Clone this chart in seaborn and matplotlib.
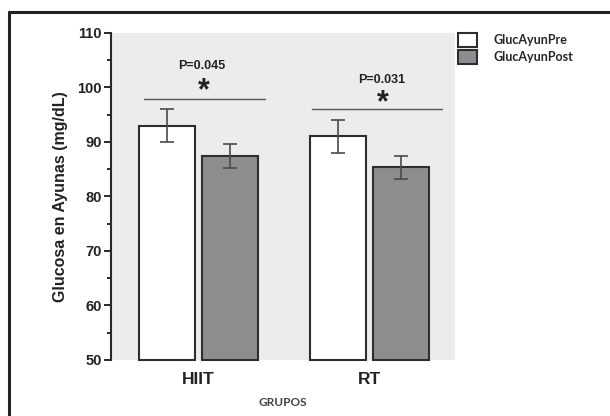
import matplotlib
matplotlib.use("Agg")
import matplotlib.pyplot as plt
import seaborn as sns
import pandas as pd
from matplotlib.patches import Patch
from matplotlib.lines import Line2D
from matplotlib.ticker import MultipleLocator

# ---- data ----
grupos = ["HIIT", "RT"]
momentos = ["GlucAyunPre", "GlucAyunPost"]
media_pre = [93.0, 91.0]
media_post = [87.4, 85.3]
error_pre = [3.0, 3.0]
error_post = [2.2, 2.1]
p_valores = ["P=0.045", "P=0.031"]

colores = ["#ffffff", "#8c8d90"]
y_min = 50

df = pd.DataFrame({
    "grupo": grupos * 2,
    "momento": [momentos[0]] * 2 + [momentos[1]] * 2,
    "glucosa": media_pre + media_post,
})

sns.set_style("white")
plt.rcParams["font.family"] = ["Liberation Sans", "DejaVu Sans"]

fig = plt.figure(figsize=(6.10, 4.16), dpi=100)
ax = fig.add_axes([0.182, 0.135, 0.564, 0.786])
ax.set_facecolor("#ececec")

sns.barplot(data=df, x="grupo", y="glucosa", hue="momento", order=grupos,
            hue_order=momentos, palette=colores, edgecolor="#2e2e2e",
            linewidth=1.5, width=0.737, gap=0.11, errorbar=None,
            legend=False, ax=ax)

errores = [error_pre, error_post]
for cont, err in zip(ax.containers, errores):
    xs = [b.get_x() + b.get_width() / 2 for b in cont]
    ys = [b.get_height() for b in cont]
    ax.errorbar(xs, ys, yerr=err, fmt="none", ecolor="#4a4a4a",
                elinewidth=1.2, capsize=5, capthick=1.2, zorder=5)
    # bars start at the axis floor so their bottom edge is drawn
    for b in cont:
        top = b.get_y() + b.get_height()
        b.set_y(y_min)
        b.set_height(top - y_min)
        b.set_clip_on(False)

ax.set_ylim(y_min, 110)
ax.set_xlim(-0.51, 1.50)
ax.yaxis.set_major_locator(MultipleLocator(10))
ax.yaxis.set_minor_locator(MultipleLocator(5))
for s in ["top", "right", "bottom"]:
    ax.spines[s].set_visible(False)
ax.spines["left"].set_color("#2a2a2a")
ax.spines["left"].set_linewidth(1.5)
ax.tick_params(axis="y", which="major", direction="out", length=5, width=1.4,
               color="#2a2a2a", left=True, pad=1.5, labelsize=10.5)
ax.tick_params(axis="y", which="minor", direction="out", length=3, width=1.4,
               color="#2a2a2a", left=True)
ax.tick_params(axis="x", length=0, pad=9, labelsize=12.5)
for lab in ax.get_yticklabels():
    lab.set_fontweight("bold")
    lab.set_color("#222222")
for lab in ax.get_xticklabels():
    lab.set_fontweight("bold")
    lab.set_color("#222222")

ax.set_ylabel("Glucosa en Ayunas (mg/dL)", fontsize=11.5, fontweight="bold",
              color="#222222", labelpad=7)
ax.set_xlabel("")
fig.text(283 / 610, 1 - 403 / 416, "GRUPOS", ha="center", va="center",
         fontsize=8.5, fontweight="bold", color="#444444",
         family=["Lato", "DejaVu Sans"])

# significance annotations
sig_lineas = [(-0.316, 0.392, 97.8), (0.667, 1.421, 96.0)]
p_pos = [(0.02, 103.9), (1.07, 101.3)]
ast_pos = [(0.03, 99.2), (1.076, 97.0)]
for (x0, x1, yl), (px, py), (axx, ayy), ptxt in zip(sig_lineas, p_pos, ast_pos, p_valores):
    ax.plot([x0, x1], [yl, yl], color="#555555", lw=1.0)
    ax.text(px, py, ptxt, ha="center", va="center", fontsize=9,
            fontweight="bold", color="#222222")
    ax.text(axx, ayy, "*", ha="center", va="center", fontsize=22,
            fontweight="bold", color="#222222")

# legend
handles = [Patch(facecolor=c, edgecolor="#2e2e2e", linewidth=1.5) for c in colores]
fig.legend(handles, momentos, loc="upper left",
           bbox_to_anchor=(458 / 610, 1 - 33 / 416), frameon=False,
           borderpad=0, borderaxespad=0, handlelength=1.5, handleheight=1.36,
           handletextpad=1.3, labelspacing=0.25,
           prop={"family": ["Lato", "DejaVu Sans"], "weight": "bold", "size": 9})

# outer frame
fig.add_artist(Line2D([9 / 610, 1.0], [1 - 12 / 416, 1 - 12 / 416],
                      transform=fig.transFigure, color="#222222", lw=2.2))
fig.add_artist(Line2D([9 / 610, 9 / 610], [0.0, 1 - 12 / 416],
                      transform=fig.transFigure, color="#222222", lw=2.2))

fig.savefig("out.png", dpi=100, facecolor="white")
